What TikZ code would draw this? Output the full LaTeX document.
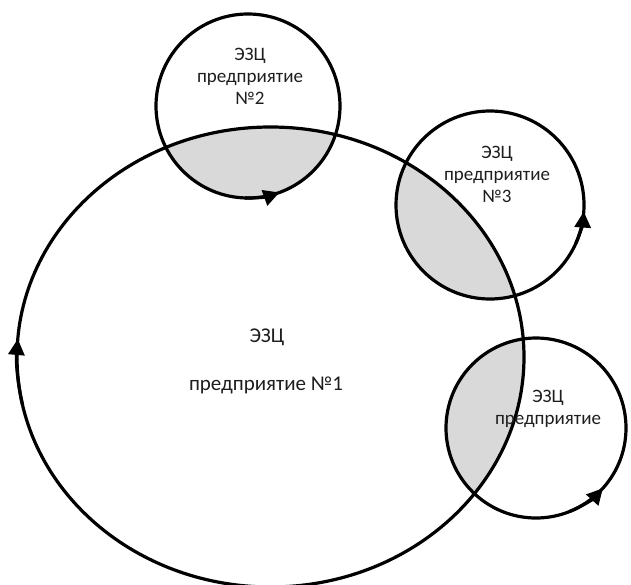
\documentclass[tikz,border=0pt]{standalone}
\usepackage{fontspec}
\setmainfont{Carlito}
\usetikzlibrary{arrows.meta}
\definecolor{zonegray}{RGB}{217,217,217}
\definecolor{labeltext}{RGB}{30,30,30}

\begin{document}
\begin{tikzpicture}[x=1pt,y=-1pt,
    rim/.style={line width=3.2pt},
    flowtip/.style={line width=3.2pt,-{Triangle[length=16pt,width=16pt]}},
    smalllabel/.style={align=center,text=labeltext,font=\fontsize{19}{22}\selectfont,inner sep=0pt},
    biglabel/.style={text=labeltext,font=\fontsize{21}{24}\selectfont,inner sep=0pt}]
      \useasboundingbox (0,0) rectangle (631,584);

      % shared zones
      \begin{scope}
        \clip (270.5,357) ellipse (253.5 and 230);
        \fill[zonegray] (248,106) circle (92);
        \fill[zonegray] (490,205) circle (94);
        \fill[zonegray] (536,428) circle (90);
      \end{scope}

      \draw[rim] (270.5,357) ellipse (253.5 and 230);
      \draw[rim] (248,106) circle (92);
      \draw[rim] (490,205) circle (94);
      \draw[rim] (536,428) circle (90);

      % direction marks
      \draw[flowtip] (270.5,357) ++(168:253.5 and 230) arc (168:184.5:253.5 and 230);
      \draw[flowtip] (248,106) ++(92:92) arc (92:70:92);
      \draw[flowtip] (490,205) ++(24:94) arc (24:4:94);
      \draw[flowtip] (536,428) ++(68:90) arc (68:42:90);

      \node[biglabel] (ezc1) at (267,337) {ЭЗЦ};
      \node[biglabel] (firm1) at (266,385) {предприятие №1};
      \node[smalllabel] (firm2) at (250,76) {ЭЗЦ\\предприятие\\№2};
      \node[smalllabel] (firm3) at (497,174) {ЭЗЦ\\предприятие\\№3};
      \node[smalllabel] (firm4) at (548,409) {ЭЗЦ\\предприятие};
\end{tikzpicture}
\end{document}
